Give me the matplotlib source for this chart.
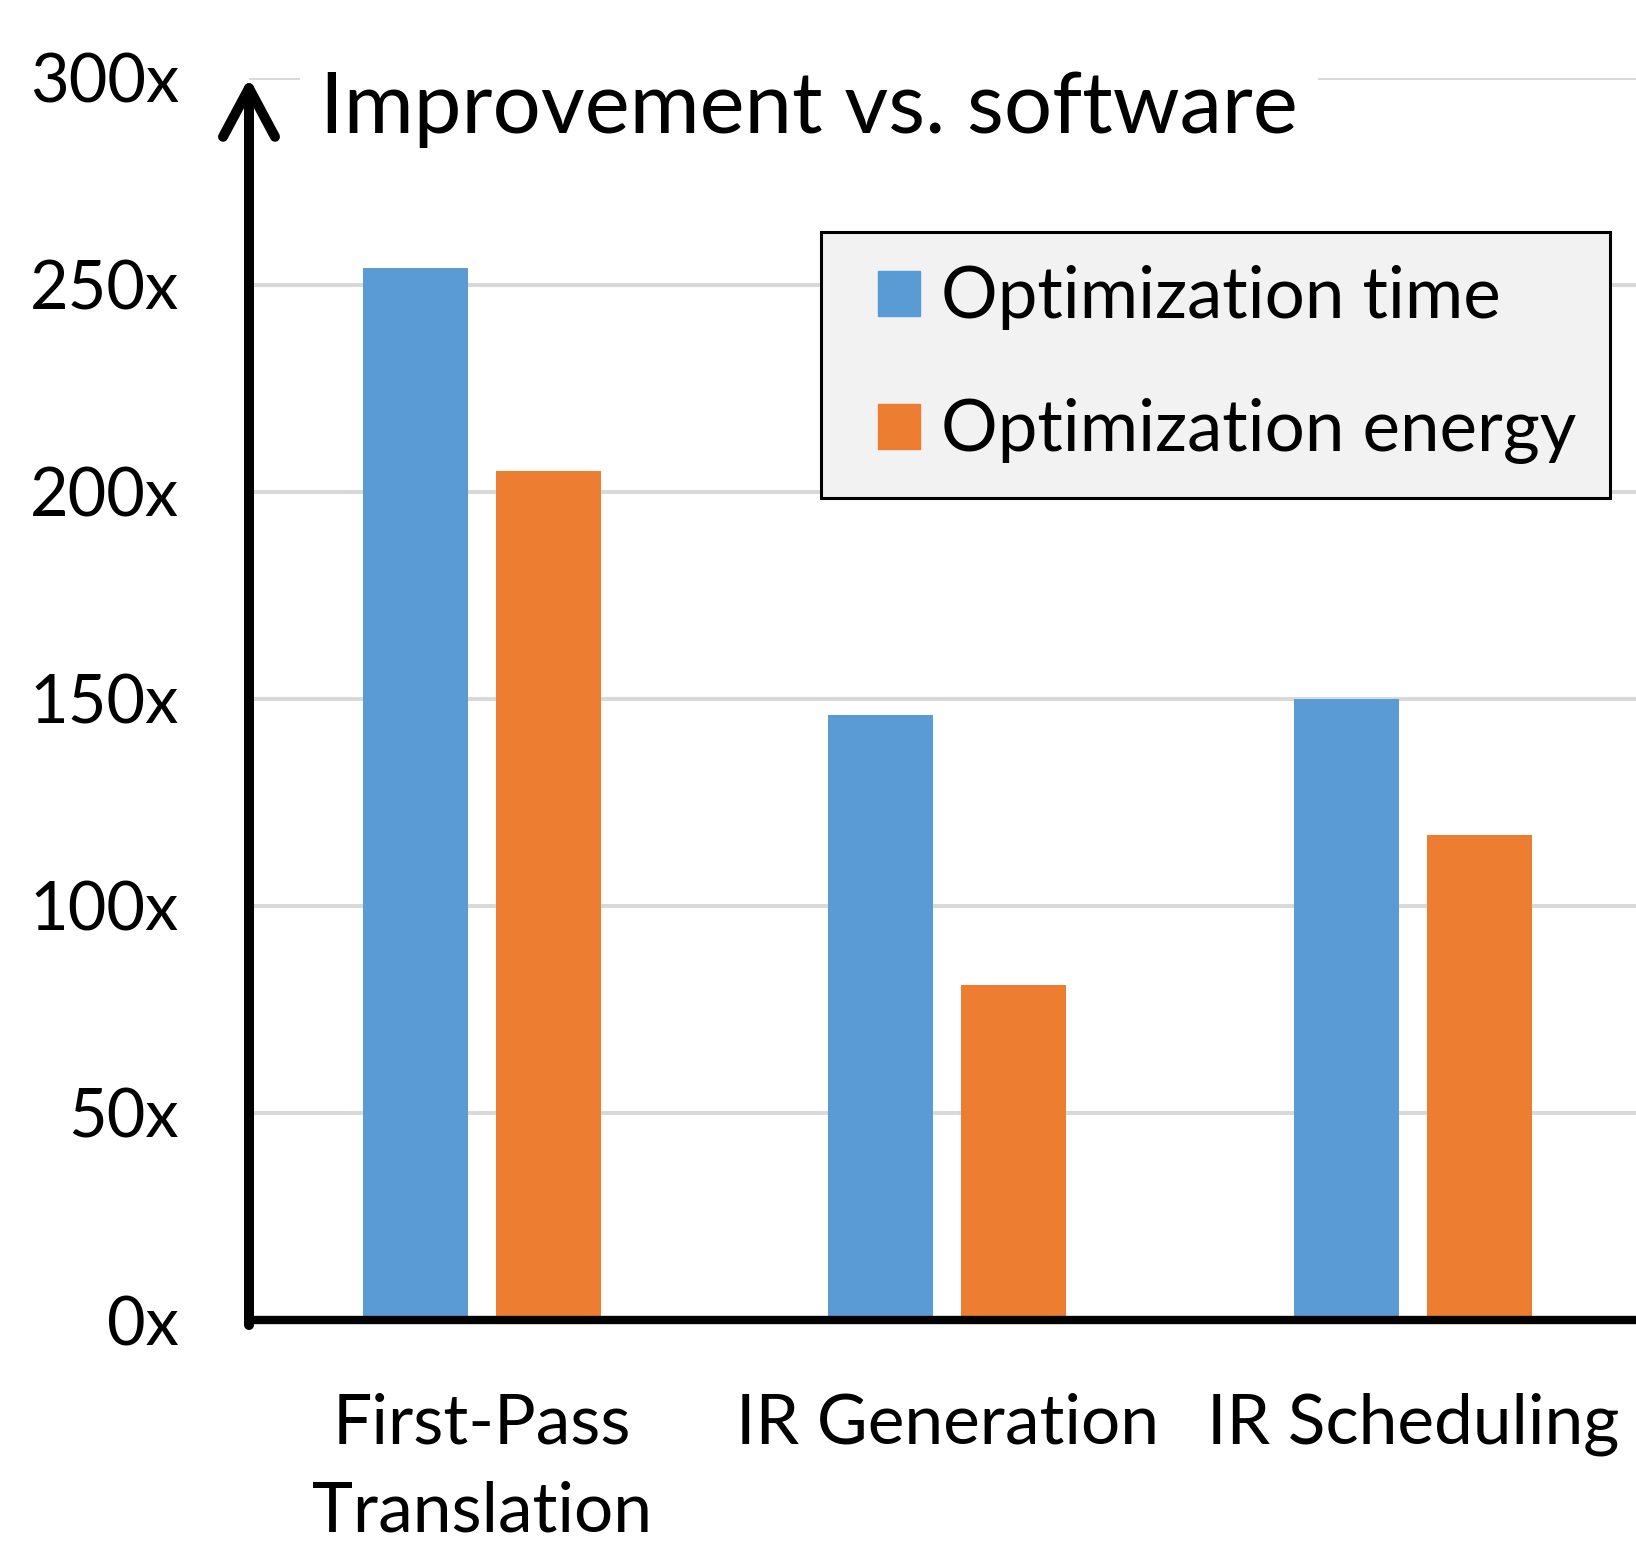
import numpy as np
import matplotlib
matplotlib.use('Agg')
import matplotlib.pyplot as plt
from matplotlib.ticker import FuncFormatter
from matplotlib.patches import Patch
from matplotlib.legend_handler import HandlerPatch

plt.rcParams['font.family'] = ['Lato', 'DejaVu Sans']

# --- datos ---
categorias = ['First-Pass\nTranslation', 'IR Generation', 'IR Scheduling']
series = ['Optimization time', 'Optimization energy']
tiempo = [254, 146, 150]
energia = [205, 81, 117]
y_ticks = [0, 50, 100, 150, 200, 250, 300]
titulo = 'Improvement vs. software'

azul = '#5b9bd5'
naranja = '#ed7d31'

fig = plt.figure(figsize=(16.36, 15.45), dpi=100)
ax = fig.add_axes([0.1522, 0.1456, 0.8536, 0.8042])

x = np.arange(len(categorias))
ancho = 0.2255
desp = 0.1429
ax.bar(x - desp, tiempo, ancho, color=azul, zorder=3)
ax.bar(x + desp, energia, ancho, color=naranja, zorder=3)

ax.set_xlim(-0.5, 2.5)
ax.set_ylim(0, 300)
ax.set_yticks(y_ticks)
ax.yaxis.set_major_formatter(FuncFormatter(lambda v, p: f'{int(v)}x'))
ax.set_xticks(x)
ax.set_xticklabels(categorias)
ax.tick_params(axis='y', length=0, pad=50.5, labelsize=48)
ax.tick_params(axis='x', length=0, pad=52, labelsize=50)
for t in ax.get_xticklabels():
    t.set_linespacing(1.5)

ax.grid(axis='y', color='#d9d9d9', lw=2.9, zorder=0)
ax.set_axisbelow(True)
for s in ['top', 'right', 'left']:
    ax.spines[s].set_visible(False)
ax.spines['bottom'].set_linewidth(6)
ax.spines['bottom'].set_zorder(4)

# eje vertical con flecha
ax.annotate('', xy=(0, 1.0), xytext=(0, -0.004), xycoords='axes fraction',
            arrowprops=dict(arrowstyle='->,head_length=3.5,head_width=1.87',
                            lw=7.2, color='black', shrinkA=0, shrinkB=0,
                            mutation_scale=10, capstyle='round',
                            joinstyle='round'),
            zorder=5, annotation_clip=False)

ax.text(0.0508, 0.9553, titulo, transform=ax.transAxes, ha='left',
        va='baseline', fontsize=61.3, zorder=4,
        bbox=dict(boxstyle='square,pad=0.24', fc='white', ec='none'))

handles = [Patch(color=azul, label=series[0]),
           Patch(color=naranja, label=series[1])]
leg = ax.legend(handles=handles, loc='upper left',
                bbox_to_anchor=(0.4096, 0.8757), borderaxespad=0,
                fontsize=51, handlelength=0.93, handleheight=0.593,
                handletextpad=0.3, labelspacing=0.96, borderpad=0.47,
                fancybox=False, framealpha=1,
                handler_map={Patch: HandlerPatch(xpad=0.34)})
leg.get_frame().set_facecolor('#f2f2f2')
leg.get_frame().set_edgecolor('black')
leg.get_frame().set_linewidth(2.2)
leg.set_zorder(6)

fig.savefig('out.png', dpi=100)
